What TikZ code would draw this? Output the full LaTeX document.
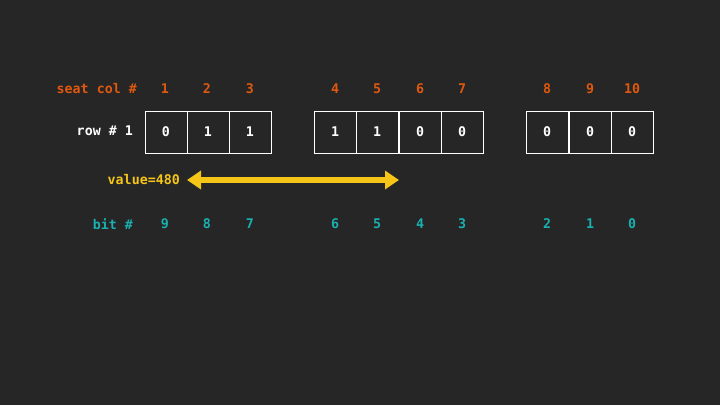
\documentclass[tikz,border=0pt]{standalone}
\usepackage{fontspec}
\setmonofont{DejaVu Sans Mono}
\usetikzlibrary{arrows.meta}
\definecolor{bg}{HTML}{262626}
\definecolor{seatc}{HTML}{E0580F}
\definecolor{bitc}{HTML}{1AB0B0}
\definecolor{valc}{HTML}{F5C518}
\tikzset{
  lbl/.style={font=\ttfamily\bfseries\fontsize{13.3}{15}\selectfont, inner sep=0pt},
  seat/.style={lbl, text=seatc},
  bitn/.style={lbl, text=bitc},
  cell/.style={draw=white, line width=1pt, minimum width=42pt, minimum height=42pt, inner sep=0pt, text=white, font=\ttfamily\bfseries\fontsize{13.3}{15}\selectfont},
}
\begin{document}
\begin{tikzpicture}[x=1pt,y=-1pt]
\fill[bg] (0,0) rectangle (720,405);
\useasboundingbox (0,0) rectangle (720,405);
% seat col row
\node[seat, anchor=east] (seatlbl) at (137,89) {seat col \#};
\foreach \n/\x in {1/165,2/207,3/250,4/335,5/377,6/420,7/462,8/547,9/590,10/632}
  \node[seat] (s\n) at (\x,89) {\n};
% row
\node[lbl, text=white, anchor=east] (rowlbl) at (133,131) {row \# 1};
\foreach \n/\x/\v in {1/166/0,2/208/1,3/250/1,4/335/1,5/377/1,6/420/0,7/462/0,8/547/0,9/590/0,10/632/0}
  \node[cell] (c\n) at (\x,132) {\v};
% value arrow
\node[lbl, text=valc, anchor=east] (val) at (180,180) {value=480};
\coordinate (al) at (187,180);
\coordinate (ar) at (399,180);
\draw[valc, line width=5.5pt, {Triangle[length=14pt,width=18pt]}-{Triangle[length=14pt,width=18pt]}] (al) -- (ar);
% bit row
\node[bitn, anchor=east] (bitlbl) at (133,224) {bit \#};
\foreach \n/\x/\b in {1/165/9,2/207/8,3/250/7,4/335/6,5/377/5,6/420/4,7/462/3,8/547/2,9/590/1,10/632/0}
  \node[bitn] (b\n) at (\x,224) {\b};
\end{tikzpicture}
\end{document}
